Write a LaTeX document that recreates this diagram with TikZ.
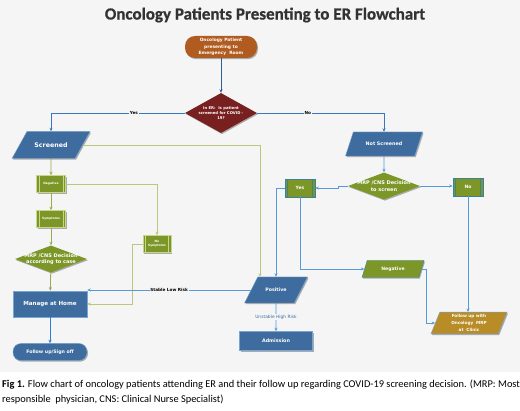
\documentclass[tikz,border=0pt]{standalone}
\usepackage{fontspec}
\setmainfont{Carlito}
\newfontfamily\dv{DejaVu Sans}
\newfontfamily\titlefont[FakeBold=0.7]{Carlito Bold}
\usetikzlibrary{shapes.geometric,shadows,arrows.meta,calc}
\definecolor{bgc}{RGB}{245,245,245}
\definecolor{brn}{RGB}{176,92,32}
\definecolor{dred}{RGB}{120,32,32}
\definecolor{sblue}{RGB}{62,108,158}
\definecolor{sblueb}{RGB}{120,165,210}
\definecolor{olive}{RGB}{124,150,40}
\definecolor{oliveb}{RGB}{200,214,140}
\definecolor{gold}{RGB}{184,140,38}
\definecolor{lblue}{RGB}{85,155,218}
\definecolor{yblue}{RGB}{55,120,190}
\definecolor{dblue}{RGB}{50,95,145}
\definecolor{bblue}{RGB}{45,125,210}
\definecolor{oline}{RGB}{150,172,80}
\definecolor{oline2}{RGB}{185,200,125}
\definecolor{tealb}{RGB}{60,130,150}
\definecolor{titc}{RGB}{50,50,50}
\definecolor{lbltext}{RGB}{60,110,170}
\begin{document}
\begin{tikzpicture}[x=1pt,y=-1pt,
  shd/.style={drop shadow={shadow xshift=1pt,shadow yshift=-1.2pt,opacity=0.3,fill=black}},
  nfont/.style 2 args={font=\dv\bfseries\fontsize{#1}{#2}\selectfont},
  term/.style={shd, text=white, align=center, inner sep=0},
  rectbox/.style={shd, fill=sblue, draw=sblueb, line width=0.5pt, text=white, inner sep=0, align=center},
  para/.style={trapezium, trapezium left angle=#1, trapezium right angle=180-#1,
    trapezium stretches body, shd, text=white, inner sep=0, align=center},
  paraH/.style 2 args={text height=#1/2+#2/2, text depth=#1/2-#2/2},
  dia/.style={diamond, shd, inner sep=0},
  lab/.style 2 args={text=white, align=center, font=\dv\bfseries\fontsize{#1}{#2}\selectfont},
  procbox/.style={shd, fill=olive, draw=#1, line width=0.6pt, text=white, inner sep=0, align=center,
    path picture={\draw[#1, line width=0.5pt]
      ([xshift=2.5pt]path picture bounding box.north west) -- ([xshift=2.5pt]path picture bounding box.south west)
      ([xshift=-2.5pt]path picture bounding box.north east) -- ([xshift=-2.5pt]path picture bounding box.south east);}},
  conn/.style={line width=0.8pt, -{Stealth[length=3.5pt,width=3pt]}},
  lbl/.style={fill=bgc, inner sep=0.8pt, font=\dv\bfseries\fontsize{4.2}{5}\selectfont, text=black},
]
\useasboundingbox (0,0) rectangle (520,411);
\fill[bgc] (0,0) rectangle (520,372);
\fill[white] (0,372) rectangle (520,411);

\node[font=\titlefont\fontsize{17}{20}\selectfont, text=titc] (title) at (265,15) {Oncology Patients Presenting to ER Flowchart};

\node[term, fill=brn, minimum width=72pt, minimum height=22pt, rounded corners=10pt, nfont={4.4}{6.5}] (start) at (221,47) {Oncology Patient\\presenting to\\Emergency\ \ Room};

\node[dia, fill=dred, minimum width=72pt, minimum height=40pt,
  label={[lab={3.8}{5.2}]center:{In ER:\ \ Is patient\\screened for COVID -\\19?}}] (d1) at (221,113) {};

\node[para=61, paraH={27pt}{4.6pt}, fill=sblue, draw=sblueb, line width=0.4pt, minimum width=78pt, nfont={6.3}{7}] (scr) at (51,145) {Screened};

\node[procbox=oliveb, minimum width=29pt, minimum height=17pt, nfont={3}{4}] (n1) at (51,184) {Negative};
\node[procbox=oliveb, minimum width=29pt, minimum height=17pt, nfont={3}{4}] (sy) at (51,219) {Symptoms};
\node[procbox=oliveb, minimum width=28pt, minimum height=17pt, nfont={3}{4}] (ns) at (157,244) {No\\Symptoms};

\node[dia, fill=olive, minimum width=72pt, minimum height=27pt,
  label={[lab={5}{6.5}]center:{MRP /CNS Decision\\according to case}}] (d2) at (51,259) {};

\node[rectbox, minimum width=74pt, minimum height=26pt, nfont={5.6}{7}] (mah) at (50,304) {Manage at Home};
\node[term, fill=sblue, draw=sblueb, line width=0.4pt, minimum width=74pt, minimum height=17pt, rounded corners=8pt, nfont={4.7}{6}] (fu) at (50,352) {Follow up/Sign off};

\node[para=63, paraH={26pt}{3.4pt}, fill=sblue, draw=sblueb, line width=0.4pt, minimum width=63pt, nfont={4.7}{6}] (pos) at (276,290) {Positive};
\node[rectbox, minimum width=73pt, minimum height=19pt, nfont={4.8}{6}] (adm) at (276,341) {Admission};

\node[para=72, paraH={24pt}{3.5pt}, fill=sblue, draw=sblueb, line width=0.4pt, minimum width=77pt, nfont={4.8}{6}] (nscr) at (384,144) {Not Screened};
\node[dia, fill=olive, minimum width=72pt, minimum height=27pt,
  label={[lab={5}{6.5}]center:{MRP /CNS Decision\\to screen}}] (d3) at (384,186) {};
\node[procbox=tealb, minimum width=30pt, minimum height=18pt, nfont={4.5}{6}] (yes) at (300,188) {Yes};
\node[procbox=tealb, minimum width=30pt, minimum height=18pt, nfont={4.5}{6}] (no) at (468,187) {No};
\node[para=73, paraH={17pt}{3.4pt}, fill=olive, draw=tealb, line width=0.4pt, minimum width=62pt, nfont={4.6}{6}] (negr) at (393,269) {Negative};
\node[para=68, fill=gold, draw=sblueb, line width=0.4pt, minimum width=76pt, inner ysep=2.4pt, nfont={4.2}{6.8}] (fuo) at (469,323) {Follow up with\\Oncology\ \ MRP\\at\ \ Clinic};

% connectors
\draw[conn, dblue] (start) -- (d1);
\draw[conn, yblue] (d1.west) -| node[pos=0.19, lbl]{Yes} (scr.north);
\draw[conn, yblue] (d1.east) -| node[pos=0.2, lbl]{No} (nscr.north);
\draw[conn, oline2] (scr.east) -| ([xshift=-16pt]pos.north);
\draw[conn, oline] (scr.south) -- (n1.north);
\draw[conn, oline] (n1) -- (sy);
\draw[conn, oline] (sy) -- (d2);
\draw[conn, oline] (d2) -- (mah);
\draw[conn, oline2] (n1.east) -| (ns.north);
\draw[conn, oline2] (ns.west) -- ++(-10,0) |- (mah.east);
\draw[conn, lblue] (pos.west) -- node[lbl, pos=0.5]{Stable Low Risk} (pos.west -| mah.east);
\draw[conn, lblue] (pos) -- node[lbl, text=lbltext, font=\dv\fontsize{4.4}{5}\selectfont]{Unstable High Risk} (adm);
\draw[conn, bblue] (mah) -- (fu);
\draw[conn, lblue] (nscr) -- (d3);
\draw[conn, lblue] (d3.west) -- ++(-9,0) |- (yes.east);
\draw[conn, lblue] (d3.east) -- (d3.east -| no.west);
\draw[conn, lblue] (yes.west) -| (pos.north);
\draw[conn, lblue] (yes.south) |- (negr.west);
\draw[conn, lblue] (negr.east) -- ++(5,0) |- (fuo.west);
\draw[conn, lblue] (no.south) -- (no.south |- fuo.north);

\node[anchor=north west, inner sep=0, align=left, font=\fontsize{10.4}{15}\selectfont] (cap) at (2,380)
  {\textbf{Fig 1.} Flow chart of oncology patients attending ER and their follow up regarding COVID-19 screening decision. (MRP: Most\\responsible\ \ physician, CNS: Clinical Nurse Specialist)};
\end{tikzpicture}
\end{document}
